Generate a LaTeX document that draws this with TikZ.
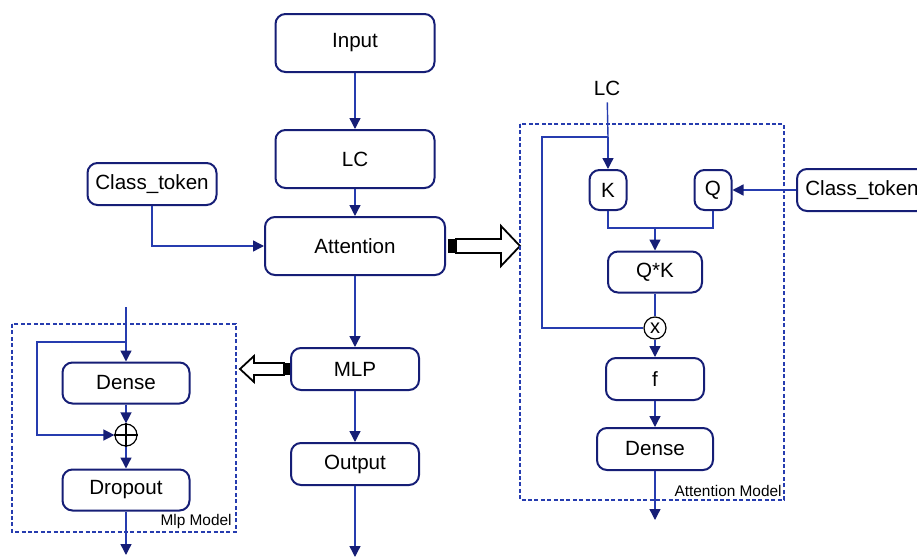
\documentclass[tikz,border=0pt]{standalone}
\usepackage{fontspec}
\setmainfont{Liberation Sans}
\usepackage{tikz}
\usetikzlibrary{arrows.meta}
\definecolor{boxnavy}{RGB}{22,30,118}
\definecolor{linkblue}{RGB}{38,60,175}

\begin{document}
\begin{tikzpicture}[x=0.5pt,y=-0.5pt,
  blk/.style={draw=boxnavy,line width=1pt,rounded corners=5pt,fill=white,inner sep=0pt,
    font=\fontsize{10.3}{12}\selectfont},
  lnk/.style={draw=linkblue,line width=0.7pt},
  arr/.style={lnk,-{Triangle[length=5.5pt,width=5.5pt,color=boxnavy]}},
  opnode/.style={draw=black,circle,line width=0.6pt,fill=white,minimum size=11pt,inner sep=0pt,
    font=\fontsize{10}{10}\selectfont},
  modbox/.style={draw=linkblue,dash pattern=on 2pt off 1.2pt,line width=1pt},
  modlabel/.style={anchor=south east,inner sep=1pt,font=\fontsize{7.7}{9}\selectfont}]
  \useasboundingbox (0,0) rectangle (917,557);

  % main chain
  \node[blk,minimum width=79.5pt,minimum height=29pt] (in) at (355,43) {Input};
  \node[blk,minimum width=79.5pt,minimum height=29pt] (lc) at (355,159) {LC};
  \node[blk,minimum width=90pt,minimum height=29pt] (att) at (355,246) {Attention};
  \node[blk,minimum width=64.5pt,minimum height=21pt] (ct1) at (152,184) {Class\_token};
  \node[blk,minimum width=64pt,minimum height=21pt] (mlp) at (355,369) {MLP};
  \node[blk,minimum width=64pt,minimum height=21pt] (out) at (355,464) {Output};
  \coordinate (outend) at (355,557);
  \draw[arr] (in) -- (lc);
  \draw[arr] (lc) -- (att);
  \draw[arr] (ct1) |- (att);
  \draw[arr] (att) -- (mlp);
  \draw[arr] (mlp) -- (out);
  \draw[arr] (out) -- (outend);

  % hollow arrows
  \fill[shift={(att.east)}] (2,-7) rectangle (10,7);
  \draw[shift={(att.east)},line width=0.9pt,fill=white]
    (10,-7) -- (55,-7) -- (55,-20) -- (74,0) -- (55,20) -- (55,7) -- (10,7) -- cycle;
  \fill[shift={(mlp.west)}] (-6,-6) rectangle (0,6);
  \draw[shift={(mlp.west)},line width=0.9pt,fill=white]
    (-6,-6) -- (-36,-6) -- (-36,-13) -- (-50,0) -- (-36,13) -- (-36,6) -- (-6,6) -- cycle;

  % Mlp model
  \draw[modbox] (12,324) rectangle (236,532);
  \node[modlabel] (mlplabel) at (234,531) {Mlp Model};
  \node[blk,minimum width=63.5pt,minimum height=20.5pt] (dn1) at (126,383) {Dense};
  \node[opnode] (plus) at (126,435) {};
  \draw[line width=0.9pt] (plus.north) -- (plus.south) (plus.west) -- (plus.east);
  \node[blk,minimum width=63.5pt,minimum height=20.5pt] (drop) at (126,490) {Dropout};
  \coordinate (mtop) at (126,307);
  \coordinate (mfork) at (126,342);
  \coordinate (mloop) at (37,342);
  \coordinate (mend) at (126,555);
  \draw[lnk] (mtop) -- (mfork);
  \draw[arr] (mfork) -- (dn1);
  \draw[arr] (mfork) -- (mloop) |- (plus);
  \draw[arr] (dn1) -- (plus);
  \draw[arr] (plus) -- (drop);
  \draw[arr] (drop) -- (mend);

  % Attention model
  \draw[modbox] (520,124) rectangle (784,500);
  \node[modlabel] (attlabel) at (784,499) {Attention Model};
  \node[font=\fontsize{10.3}{12}\selectfont] (lctxt) at (607,88) {LC};
  \node[blk,minimum width=18.5pt,minimum height=20pt] (k) at (608,190) {K};
  \node[blk,minimum width=18.5pt,minimum height=20pt] (q) at (713,190) {Q};
  \node[blk,minimum width=65pt,minimum height=21pt] (ct2) at (862,190) {Class\_token};
  \node[blk,minimum width=47pt,minimum height=20.5pt] (qk) at (655,272) {Q*K};
  \node[opnode] (mul) at (655,328) {x};
  \node[blk,minimum width=49pt,minimum height=21pt] (f) at (655,379) {f};
  \node[blk,minimum width=58pt,minimum height=21pt] (dn2) at (655,449) {Dense};
  \coordinate (afork) at (608,137);
  \coordinate (aloop) at (542,137);
  \coordinate (kqjoin) at (655,228);
  \coordinate (aend) at (655,520);
  \draw[lnk] (lctxt) -- (afork);
  \draw[arr] (afork) -- (k);
  \draw[lnk] (afork) -- (aloop) |- (mul);
  \draw[arr] (ct2) -- (q);
  \draw[lnk] (k.south) |- (kqjoin) -| (q.south);
  \draw[arr] (kqjoin) -- (qk);
  \draw[lnk] (qk) -- (mul);
  \draw[arr] (mul) -- (f);
  \draw[arr] (f) -- (dn2);
  \draw[arr] (dn2) -- (aend);
\end{tikzpicture}
\end{document}
